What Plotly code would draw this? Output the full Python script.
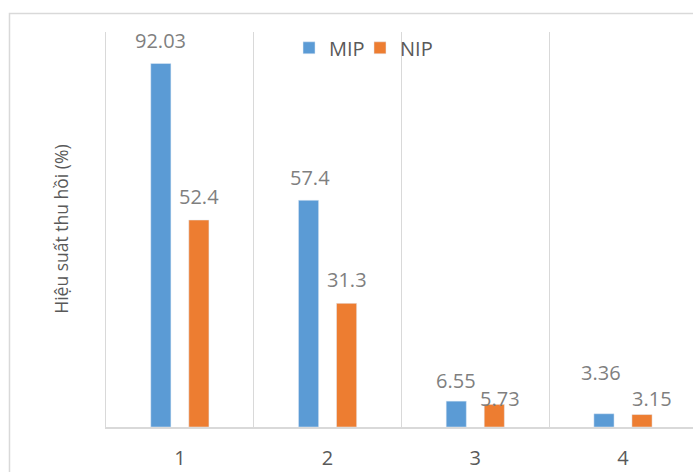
import plotly.graph_objects as go

# Recovery efficiency (%) for four extraction cycles
categories = ["1", "2", "3", "4"]
mip_values = [92.03, 57.4, 6.55, 3.36]
nip_values = [52.4, 31.3, 5.73, 3.15]

# Pixel nudges (dx, dy) for the value labels above each bar
mip_label_nudge = [(0, 23), (1, 23), (0, 21), (-3, 41)]
nip_label_nudge = [(0, 24), (0, 24), (6, 6), (10, 16)]

BLUE = "#5B9BD5"
ORANGE = "#ED7D31"
GRID = "#D9D9D9"
TEXT_DARK = "#595959"
TEXT_LABEL = "#7F7F7F"
FONT = "Open Sans"

fig = go.Figure()
fig.add_trace(go.Bar(name="MIP", x=categories, y=mip_values,
                     marker=dict(color=BLUE), legend="legend"))
fig.add_trace(go.Bar(name="NIP", x=categories, y=nip_values,
                     marker=dict(color=ORANGE), legend="legend2"))

annotations = []
for vals, nudges, side in ((mip_values, mip_label_nudge, -19),
                           (nip_values, nip_label_nudge, 19)):
    for idx, (v, (dx, dy)) in enumerate(zip(vals, nudges)):
        annotations.append(dict(
            x=idx, y=v, xref="x", yref="y", text=f"{v:g}",
            showarrow=False, xanchor="center", yanchor="middle",
            xshift=side + dx, yshift=dy,
            font=dict(family=FONT, size=20, color=TEXT_LABEL)))

annotations.append(dict(
    x=-0.078, y=0.5, xref="paper", yref="paper",
    text="Hiệu suất thu hồi (%)", textangle=-90, showarrow=False,
    xanchor="center", yanchor="middle",
    font=dict(family=FONT, size=17.5, color=TEXT_DARK)))

legend_style = dict(orientation="h", y=0.96, xanchor="left",
                    yanchor="middle", itemwidth=30,
                    font=dict(family=FONT, size=20, color=TEXT_DARK),
                    bgcolor="rgba(0,0,0,0)")

fig.update_layout(
    width=693, height=472,
    margin=dict(l=106, r=0, t=32, b=45),
    paper_bgcolor="white", plot_bgcolor="white",
    barmode="group", bargap=0.485, bargroupgap=0.47,
    showlegend=True,
    legend=dict(x=0.3118, **legend_style),
    legend2=dict(x=0.4327, **legend_style),
    annotations=annotations,
    shapes=[dict(type="rect", xref="paper", yref="paper",
                 x0=-0.1644, x1=1.2, y0=-0.3, y1=1.0468,
                 line=dict(color=GRID, width=1.5), layer="below")],
    font=dict(family=FONT, color=TEXT_DARK),
)

fig.update_xaxes(
    type="category", range=[-0.5, 3.474],
    tickson="boundaries", showgrid=True, gridcolor=GRID, gridwidth=1,
    showline=True, linecolor=GRID, linewidth=1.5,
    ticks="", ticklabelstandoff=12,
    tickfont=dict(family=FONT, size=20, color=TEXT_DARK),
)
fig.update_yaxes(
    range=[0, 100], showgrid=False, zeroline=False,
    showticklabels=False, showline=True, linecolor=GRID, linewidth=1,
)

fig.write_html("out.html")
